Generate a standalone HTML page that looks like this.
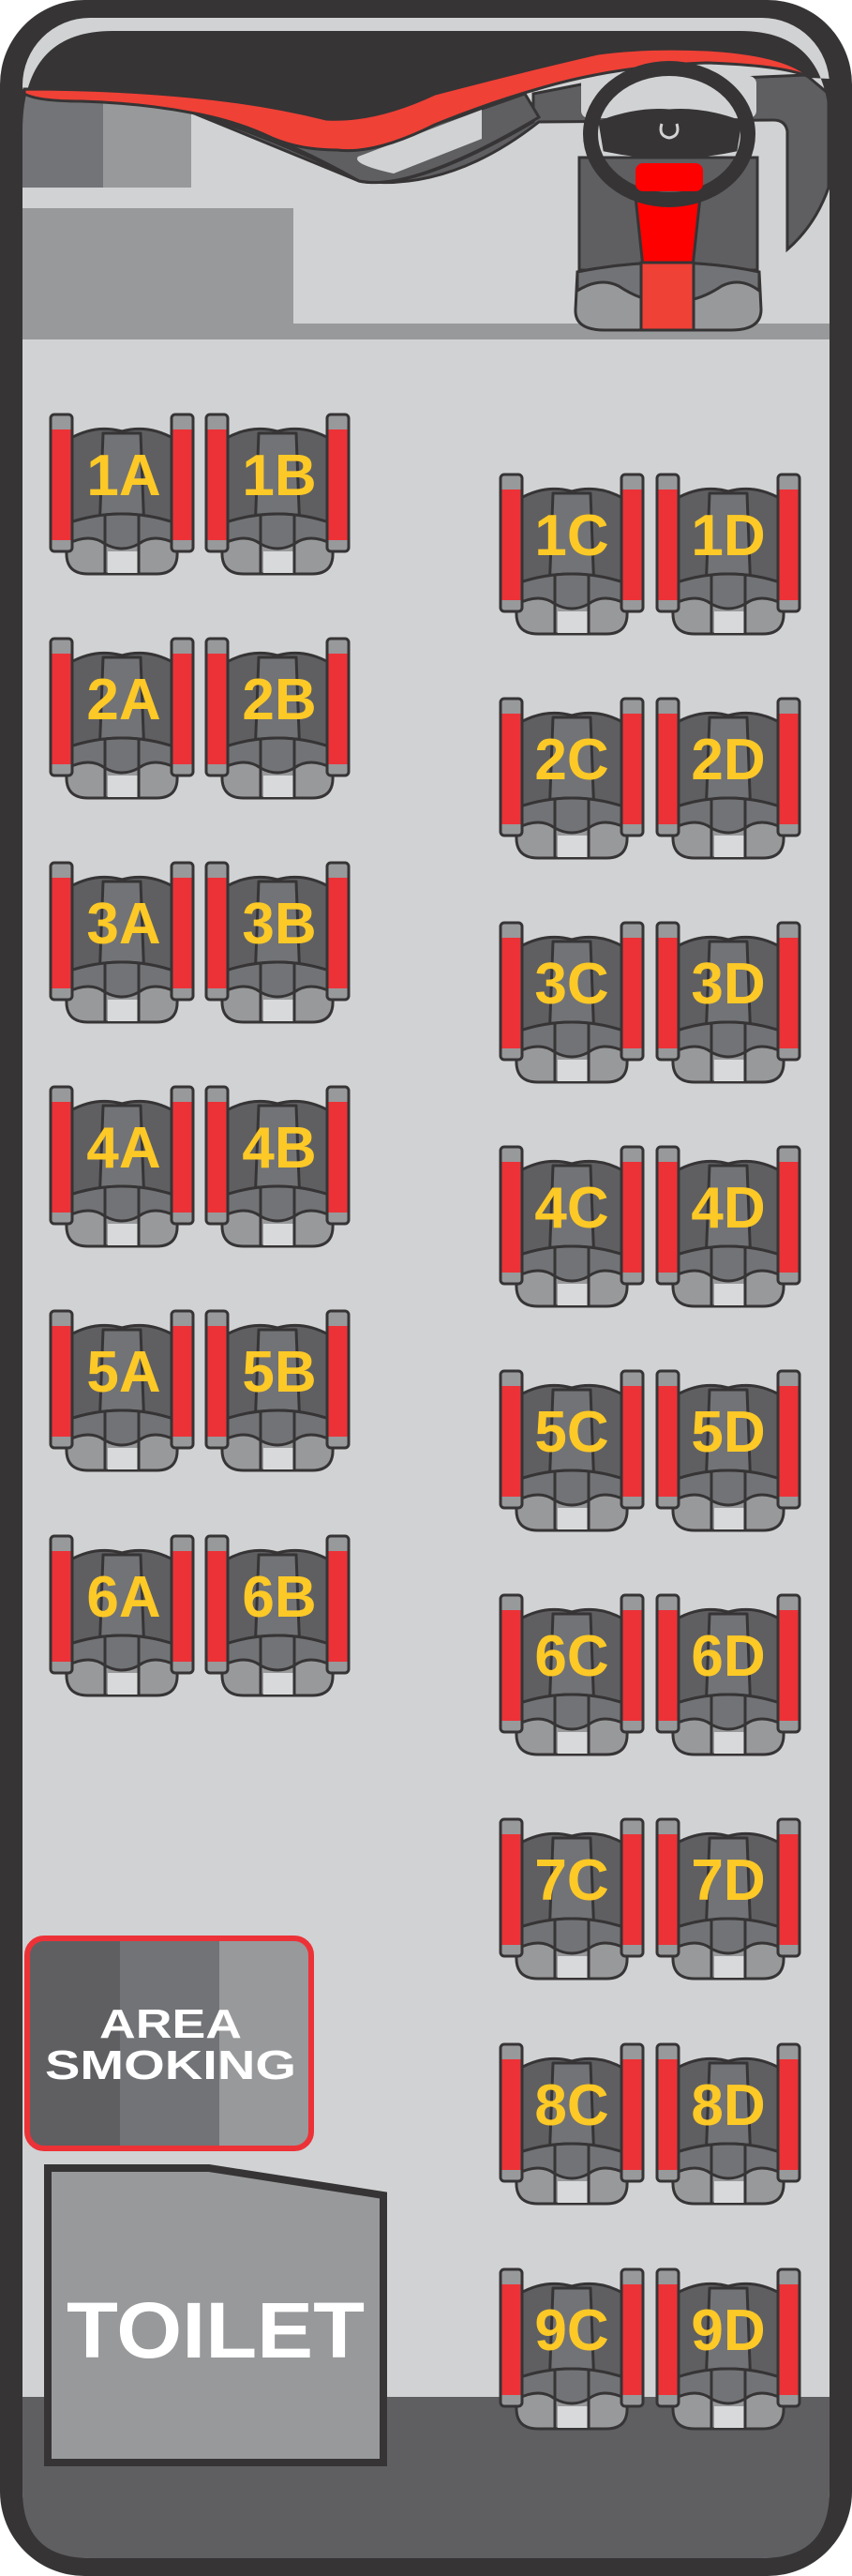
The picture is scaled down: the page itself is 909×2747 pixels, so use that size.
<!DOCTYPE html>
<html><head><meta charset="utf-8"><style>html,body{margin:0;padding:0;background:#fff}svg{display:block}</style></head>
<body>
<svg width="909" height="2747" viewBox="0 0 909 2747" xmlns="http://www.w3.org/2000/svg">
<defs>
<g id="seat" stroke="#363435" stroke-width="3" stroke-linejoin="round">
  <path d="M22 28 Q50 12 78 20 Q106 12 134 28 L134 132 L22 132 Z" fill="#5f5f62"/>
  <path d="M58 22 L98 22 L102 128 L54 128 Z" fill="#727376"/>
  <path d="M20 118 Q78 98 136 118 L136 140 Q142 172 115 172 L42 172 Q14 172 20 140 Z" fill="#98999b"/>
  <path d="M20 118 Q78 98 136 118 L136 140 Q112 128 96 140 Q78 150 60 140 Q44 128 20 140 Z" fill="#727376"/>
  <rect x="63" y="148" width="32" height="23" fill="#d8d9da" stroke="none"/>
  <line x1="60" y1="108" x2="60" y2="172"/><line x1="96" y1="108" x2="96" y2="172"/>
  <rect x="2" y="2" width="23" height="146" rx="4" fill="#98999b"/>
  <rect x="3.5" y="18" width="20" height="118" fill="#ec3237" stroke="none"/>
  <rect x="131" y="2" width="23" height="146" rx="4" fill="#98999b"/>
  <rect x="132.5" y="18" width="20" height="118" fill="#ec3237" stroke="none"/>
</g>
</defs>
<rect x="0" y="0" width="909" height="2747" rx="90" fill="#363435"/>
<rect x="24" y="19" width="861" height="2709" rx="72" fill="#d1d2d4"/>
<path d="M24 2556 H885 V2656 Q885 2728 813 2728 H96 Q24 2728 24 2656 Z" fill="#5f5f62"/>
<!-- top blocks -->
<rect x="24" y="95" width="86" height="105" fill="#737477"/>
<rect x="110" y="100" width="94" height="100" fill="#98999b"/>
<rect x="24" y="222" width="289" height="123" fill="#98999b"/>
<rect x="24" y="345" width="861" height="17" fill="#98999b"/>
<!-- dashboard -->
<path d="M200 118 Q300 150 383 193 Q440 205 569 130 L569 100 L620 90 L860 80 L884 100 V200 Q870 240 840 266 V140 Q838 128 825 128 L575 130 Q480 205 383 193 Z" fill="#5f5f62" stroke="#363435" stroke-width="3"/>
<path d="M200 118 Q290 140 383 193 Q440 205 575 125 L560 100 Q420 150 360 160 Q290 147 203 118 Z" fill="#5f5f62" stroke="#363435" stroke-width="3"/>
<path d="M382 167 L514 117 L514 148 L420 185 Q375 175 382 167 Z" fill="#d1d2d4"/>
<rect x="620" y="81" width="187" height="45" rx="8" fill="#d1d2d4"/>
<!-- dark top -->
<path d="M24 140 Q24 33 120 33 H790 Q885 33 885 140 L885 84 L865 83 Q840 63 754 53 Q690 50 638 57 Q560 75 464 100 Q400 130 348 127 Q280 110 203 103 Q120 95 24 95 Z" fill="#363435"/>
<path d="M26 95 Q120 95 203 103 Q280 110 348 127 Q400 130 464 100 Q560 75 638 57 Q690 50 754 53 Q840 58 865 83 Q840 70 754 67 Q660 70 580 93 Q520 110 464 133 Q400 165 360 160 Q320 160 290 147 Q250 128 203 120 Q150 110 87 108 Q40 108 26 100 Z" fill="#ef4136" stroke="#363435" stroke-width="3"/>
<!-- driver seat -->
<g stroke="#363435" stroke-width="3">
<rect x="618" y="168" width="190" height="120" fill="#5f5f62"/>
<path d="M678 210 L747 210 L739 285 L686 285 Z" fill="#ff0000"/>
<path d="M616 290 Q714 270 810 290 L812 330 Q812 352 780 352 L645 352 Q613 352 614 330 Z" fill="#98999b"/>
<path d="M616 290 Q714 270 810 290 L810 310 Q790 295 770 305 Q740 325 714 320 Q690 325 660 305 Q640 295 616 310 Z" fill="#727376"/>
<rect x="684" y="280" width="56" height="72" fill="#ef4136"/>
<ellipse cx="714" cy="143" rx="84" ry="70" fill="none" stroke-width="16"/>
<path d="M640 130 Q680 115 714 118 Q750 115 790 130 L785 160 Q714 175 645 160 Z" fill="#363435"/>
<rect x="678" y="174" width="72" height="30" rx="8" fill="#ff0000" stroke="none"/>
<path d="M706 132 Q702 145 714 147 Q726 145 722 132" fill="none" stroke="#d1d2d4" stroke-width="3"/>
</g>
<!-- seats -->
<g font-family="'Liberation Sans',sans-serif" font-weight="bold" font-size="62" fill="#fdc926" text-anchor="middle">
<use href="#seat" x="52" y="440"/><use href="#seat" x="218" y="440"/>
<use href="#seat" x="52" y="679"/><use href="#seat" x="218" y="679"/>
<use href="#seat" x="52" y="918"/><use href="#seat" x="218" y="918"/>
<use href="#seat" x="52" y="1157"/><use href="#seat" x="218" y="1157"/>
<use href="#seat" x="52" y="1396"/><use href="#seat" x="218" y="1396"/>
<use href="#seat" x="52" y="1636"/><use href="#seat" x="218" y="1636"/>
<text x="132" y="528">1A</text><text x="298" y="528">1B</text>
<text x="132" y="767">2A</text><text x="298" y="767">2B</text>
<text x="132" y="1006">3A</text><text x="298" y="1006">3B</text>
<text x="132" y="1245">4A</text><text x="298" y="1245">4B</text>
<text x="132" y="1484">5A</text><text x="298" y="1484">5B</text>
<text x="132" y="1724">6A</text><text x="298" y="1724">6B</text>
<use href="#seat" x="532" y="504"/><use href="#seat" x="699" y="504"/>
<use href="#seat" x="532" y="743"/><use href="#seat" x="699" y="743"/>
<use href="#seat" x="532" y="982"/><use href="#seat" x="699" y="982"/>
<use href="#seat" x="532" y="1221"/><use href="#seat" x="699" y="1221"/>
<use href="#seat" x="532" y="1460"/><use href="#seat" x="699" y="1460"/>
<use href="#seat" x="532" y="1699"/><use href="#seat" x="699" y="1699"/>
<use href="#seat" x="532" y="1938"/><use href="#seat" x="699" y="1938"/>
<use href="#seat" x="532" y="2178"/><use href="#seat" x="699" y="2178"/>
<use href="#seat" x="532" y="2418"/><use href="#seat" x="699" y="2418"/>
<text x="610" y="592">1C</text><text x="777" y="592">1D</text>
<text x="610" y="831">2C</text><text x="777" y="831">2D</text>
<text x="610" y="1070">3C</text><text x="777" y="1070">3D</text>
<text x="610" y="1309">4C</text><text x="777" y="1309">4D</text>
<text x="610" y="1548">5C</text><text x="777" y="1548">5D</text>
<text x="610" y="1787">6C</text><text x="777" y="1787">6D</text>
<text x="610" y="2026">7C</text><text x="777" y="2026">7D</text>
<text x="610" y="2266">8C</text><text x="777" y="2266">8D</text>
<text x="610" y="2506">9C</text><text x="777" y="2506">9D</text>
</g>
<!-- smoking -->
<clipPath id="sc"><rect x="29" y="2067" width="303" height="224" rx="18"/></clipPath>
<g clip-path="url(#sc)">
<rect x="26" y="2064" width="102" height="230" fill="#5f5f62"/>
<rect x="128" y="2064" width="106" height="230" fill="#727376"/>
<rect x="234" y="2064" width="101" height="230" fill="#98999b"/>
</g>
<rect x="29" y="2067" width="303" height="224" rx="18" fill="none" stroke="#ec3237" stroke-width="6"/>
<g font-family="'Liberation Sans',sans-serif" font-weight="bold" fill="#fff" text-anchor="middle">
<text x="182" y="2173" font-size="44" textLength="152" lengthAdjust="spacingAndGlyphs">AREA</text>
<text x="182" y="2217" font-size="44" textLength="268" lengthAdjust="spacingAndGlyphs">SMOKING</text>
</g>
<!-- toilet -->
<polygon points="51,2312 223,2312 409,2341 409,2626 51,2626" fill="#98999b" stroke="#363435" stroke-width="8"/>
<text x="230" y="2514" font-family="'Liberation Sans',sans-serif" font-weight="bold" font-size="84" fill="#fff" text-anchor="middle" textLength="318" lengthAdjust="spacingAndGlyphs">TOILET</text>
</svg>
</body></html>
